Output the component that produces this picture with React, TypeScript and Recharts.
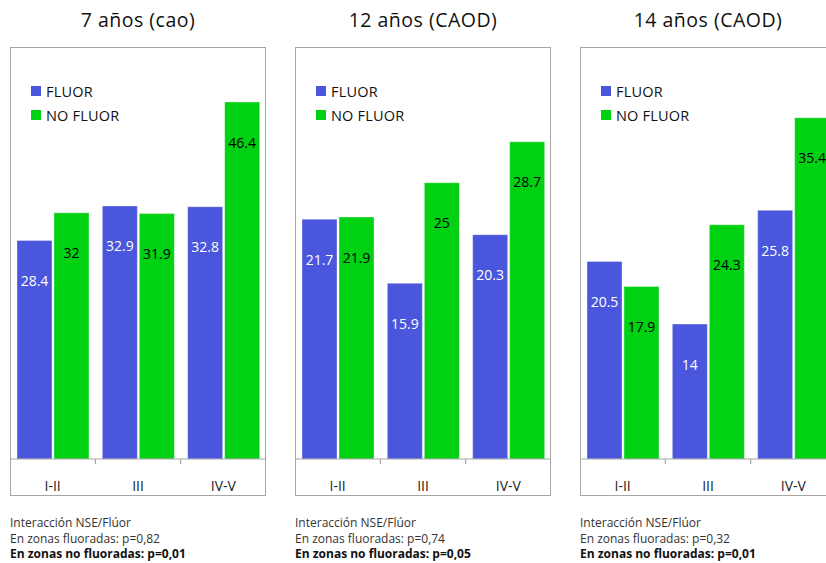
import React from 'react';
import { BarChart, Bar, XAxis, YAxis, Legend, LabelList } from 'recharts';

const categories = ['I-II', 'III', 'IV-V'];

const titles = ['7 años (cao)', '12 años (CAOD)', '14 años (CAOD)'];

const fluor7 = [28.4, 32.9, 32.8];
const noFluor7 = [32, 31.9, 46.4];
const fluor12 = [21.7, 15.9, 20.3];
const noFluor12 = [21.9, 25, 28.7];
const fluor14 = [20.5, 14, 25.8];
const noFluor14 = [17.9, 24.3, 35.4];

const yMax = [52, 36.2, 41.5];

const pFluor = ['0,82', '0,74', '0,32'];
const pNoFluor = ['0,01', '0,05', '0,01'];

const BLUE = '#4a56dc';
const GREEN = '#00d112';
const FONT = '"Open Sans", Lato, sans-serif';

const PANEL_W = 256;
const CHART_H = 449;
const BAND = PANEL_W / categories.length;

const series = [
  { fluor: fluor7, noFluor: noFluor7 },
  { fluor: fluor12, noFluor: noFluor12 },
  { fluor: fluor14, noFluor: noFluor14 },
];

const panelLeft = [10, 295, 580];

const buildRows = (fluor: number[], noFluor: number[]) =>
  categories.map((cat, i) => ({ cat, fluor: fluor[i], noFluor: noFluor[i] }));

const CategoryTick = (props: any) => {
  const { x, y, payload, index } = props;
  const last = index === categories.length - 1;
  return (
    <g>
      <line x1={x - BAND / 2} y1={y} x2={x - BAND / 2} y2={y + 5} stroke="#a6a6a6" strokeWidth={1.2} />
      {last && (
        <line x1={x + BAND / 2} y1={y} x2={x + BAND / 2} y2={y + 5} stroke="#a6a6a6" strokeWidth={1.2} />
      )}
      <text
        x={x}
        y={y + 26}
        textAnchor="middle"
        dominantBaseline="central"
        fill="#222"
        fontSize={14}
        fontFamily={FONT}
      >
        {payload.value}
      </text>
    </g>
  );
};

const valueLabel = (color: string) => (props: any) => {
  const { x, y, width, value } = props;
  return (
    <text
      x={x + width / 2}
      y={y + 40}
      textAnchor="middle"
      dominantBaseline="central"
      fill={color}
      fontSize={14}
      fontFamily={FONT}
    >
      {value}
    </text>
  );
};

const LegendBox = () => (
  <div style={{ fontFamily: FONT, fontSize: 14.5, letterSpacing: 0.2, color: '#111' }}>
    {[
      { name: 'FLUOR', color: BLUE },
      { name: 'NO FLUOR', color: GREEN },
    ].map((item) => (
      <div key={item.name} style={{ display: 'flex', alignItems: 'center', height: 24 }}>
        <span style={{ width: 10, height: 10, background: item.color, marginRight: 5, display: 'inline-block' }} />
        <span>{item.name}</span>
      </div>
    ))}
  </div>
);

const Panel = ({ idx }: { idx: number }) => {
  const data = buildRows(series[idx].fluor, series[idx].noFluor);
  return (
    <div style={{ position: 'absolute', left: panelLeft[idx], top: 0, width: PANEL_W, height: 563 }}>
      <div
        style={{
          position: 'absolute',
          top: 8,
          width: PANEL_W,
          textAlign: 'center',
          fontFamily: FONT,
          fontSize: 19.5,
          letterSpacing: 0.5,
          lineHeight: '24px',
          color: '#111',
        }}
      >
        {titles[idx]}
      </div>
      <div style={{ position: 'absolute', top: 47, left: 0 }}>
        <BarChart
          width={PANEL_W}
          height={CHART_H}
          data={data}
          margin={{ top: 12, right: 0, bottom: 0, left: 0 }}
          barCategoryGap={7}
          barGap={2}
        >
          <XAxis
            dataKey="cat"
            height={37}
            axisLine={{ stroke: '#a6a6a6', strokeWidth: 1.2 }}
            tickLine={false}
            tickSize={0}
            tickMargin={0}
            interval={0}
            tick={<CategoryTick />}
          />
          <YAxis hide domain={[0, yMax[idx]]} />
          <Legend
            layout="vertical"
            align="center"
            verticalAlign="middle"
            wrapperStyle={{ left: 21, top: 32, width: 150 }}
            content={<LegendBox />}
          />
          <Bar dataKey="fluor" name="FLUOR" fill={BLUE} stroke="rgba(255,255,255,0.35)" isAnimationActive={false}>
            <LabelList dataKey="fluor" content={valueLabel('#ffffff')} />
          </Bar>
          <Bar dataKey="noFluor" name="NO FLUOR" fill={GREEN} stroke="rgba(255,255,255,0.35)" isAnimationActive={false}>
            <LabelList dataKey="noFluor" content={valueLabel('#000000')} />
          </Bar>
        </BarChart>
        <div
          style={{
            position: 'absolute',
            left: 0,
            top: 0,
            width: PANEL_W,
            height: CHART_H,
            border: '1.5px solid #a6a6a6',
            boxSizing: 'border-box',
            pointerEvents: 'none',
          }}
        />
      </div>
      <div
        style={{
          position: 'absolute',
          top: 515,
          left: 0,
          width: 300,
          fontFamily: FONT,
          fontSize: 12,
          lineHeight: '15.5px',
          color: '#333',
        }}
      >
        <div>Interacción NSE/Flúor</div>
        <div>En zonas fluoradas: p={pFluor[idx]}</div>
        <div style={{ fontWeight: 700, color: '#111' }}>En zonas no fluoradas: p={pNoFluor[idx]}</div>
      </div>
    </div>
  );
};

export default function App() {
  return (
    <div
      style={{
        position: 'fixed',
        left: 0,
        top: 0,
        width: 826,
        height: 563,
        overflow: 'hidden',
        background: '#fff',
      }}
    >
      {titles.map((_, i) => (
        <Panel key={i} idx={i} />
      ))}
    </div>
  );
}
